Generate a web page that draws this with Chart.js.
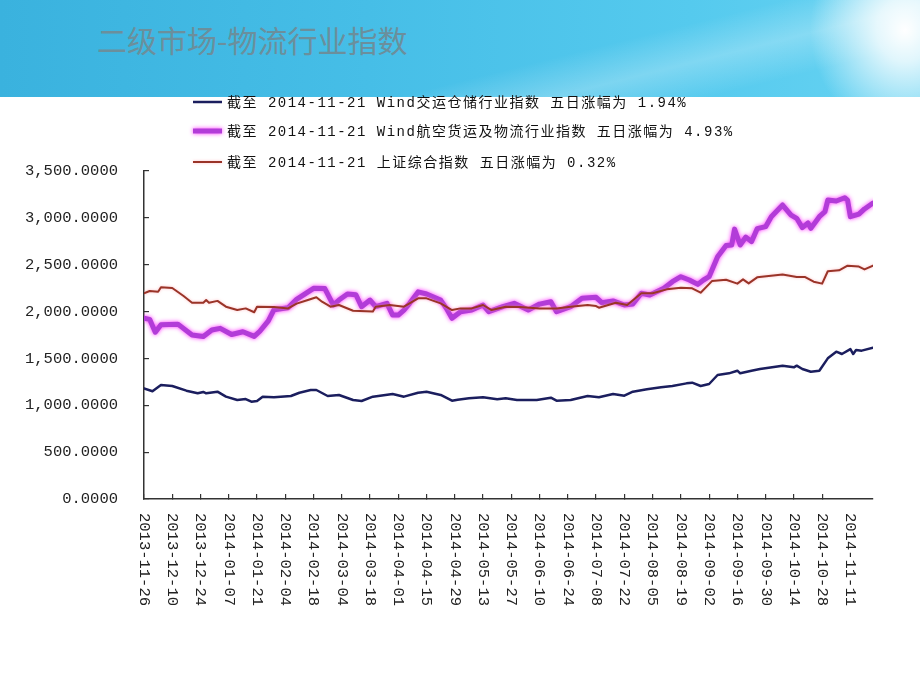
<!DOCTYPE html>
<html>
<head>
<meta charset="UTF-8">
<title>二级市场-物流行业指数</title>
<script src="https://cdn.jsdelivr.net/npm/chart.js@4.4.1/dist/chart.umd.min.js"></script>
<style>
  html, body { margin: 0; padding: 0; }
  body { width: 920px; height: 690px; position: relative; overflow: hidden; background: #fff;
         font-family: "Noto Sans CJK SC", sans-serif; }
  #header { position: absolute; left: 0; top: 0; width: 920px; height: 97px;
    background:
      radial-gradient(ellipse 95px 105px at 905px 30px, rgba(255,255,255,1) 0%, rgba(255,255,255,0.8) 30%, rgba(255,255,255,0) 100%),
      linear-gradient(166deg, rgba(255,255,255,0) 60%, rgba(255,255,255,0.25) 72%, rgba(255,255,255,0) 84%),
      linear-gradient(to right, #3ab2de 0%, #46bee7 40%, #55caee 75%, #68d3f2 100%); }
  #title { position: absolute; left: 97px; top: 21px; font-size: 30px; line-height: 36px; color: #6b8f9c; }
  #chart { position: absolute; left: 0; top: 0; }
</style>
</head>
<body>
<div id="header"><div id="title">二级市场-物流行业指数</div></div>
<canvas id="chart" width="920" height="690"></canvas>
<script>
// tick labels, one every 10 trading days
const tickDates = ['2013-11-26', '2013-12-10', '2013-12-24', '2014-01-07', '2014-01-21', '2014-02-04',
  '2014-02-18', '2014-03-04', '2014-03-18', '2014-04-01', '2014-04-15', '2014-04-29', '2014-05-13',
  '2014-05-27', '2014-06-10', '2014-06-24', '2014-07-08', '2014-07-22', '2014-08-05', '2014-08-19',
  '2014-09-02', '2014-09-16', '2014-09-30', '2014-10-14', '2014-10-28', '2014-11-11'];
const lastDay = 258; // 2014-11-21

const seriesNames = [
  '截至 2014-11-21 Wind交运仓储行业指数 五日涨幅为 1.94%',
  '截至 2014-11-21 Wind航空货运及物流行业指数 五日涨幅为 4.93%',
  '截至 2014-11-21 上证综合指数 五日涨幅为 0.32%'
];

// Wind交运仓储行业指数 (trading day index, value)
const navyDays = [0, 3, 6, 10, 15, 19, 21, 22, 26, 29, 33, 36, 38, 40, 42, 46, 52, 55, 59, 61, 65, 69, 74, 77,
  81, 88, 92, 97, 100, 105, 109, 111, 115, 120, 125, 128, 132, 139, 144, 146, 151, 157, 161, 166, 170, 173,
  178, 183, 187, 192, 194, 197, 200, 203, 207, 210, 211, 215, 218, 226, 230, 231, 233, 236, 239, 242, 245,
  247, 250, 251, 252, 254, 258];
const navyVals = [1181, 1150, 1216, 1206, 1156, 1128, 1142, 1128, 1145, 1092, 1056, 1067, 1038, 1046, 1092,
  1085, 1099, 1134, 1163, 1163, 1099, 1110, 1056, 1046, 1092, 1120, 1092, 1134, 1145, 1110, 1049, 1060, 1074,
  1085, 1064, 1074, 1056, 1056, 1081, 1049, 1056, 1099, 1085, 1120, 1102, 1145, 1170, 1192, 1206, 1234, 1241,
  1206, 1227, 1323, 1341, 1369, 1341, 1369, 1387, 1423, 1405, 1423, 1387, 1358, 1369, 1501, 1572, 1547, 1600,
  1547, 1590, 1583, 1614];

// Wind航空货运及物流行业指数
const purpleDays = [0, 2, 4, 6, 12, 17, 21, 24, 27, 31, 35, 39, 41, 44, 46, 51, 54, 60, 64, 67, 69, 72, 75, 77,
  80, 82, 86, 88, 90, 92, 94, 97, 100, 105, 107, 109, 112, 116, 120, 122, 127, 131, 136, 140, 144, 146, 151,
  155, 160, 162, 166, 170, 173, 176, 179, 184, 187, 190, 193, 196, 198, 200, 203, 206, 208, 209, 211, 213, 215,
  217, 220, 222, 226, 229, 231, 233, 235, 236, 239, 241, 242, 245, 248, 249, 250, 253, 255, 258];
const purpleVals = [1928, 1917, 1780, 1860, 1866, 1750, 1735, 1803, 1821, 1755, 1785, 1735, 1790, 1900, 2020,
  2040, 2130, 2248, 2245, 2070, 2123, 2187, 2180, 2052, 2123, 2052, 2088, 1963, 1963, 2016, 2088, 2210, 2187,
  2123, 2034, 1928, 1999, 2016, 2070, 1999, 2052, 2088, 2016, 2080, 2105, 1999, 2052, 2141, 2152, 2095, 2114,
  2070, 2080, 2195, 2177, 2248, 2319, 2372, 2337, 2290, 2337, 2372, 2585, 2705, 2710, 2880, 2710, 2795, 2746,
  2885, 2906, 3012, 3137, 3030, 2995, 2895, 2945, 2888, 3012, 3066, 3190, 3180, 3215, 3190, 3012, 3040, 3095,
  3158];

// 上证综合指数
const redDays = [0, 2, 5, 6, 10, 14, 17, 21, 22, 23, 26, 29, 33, 36, 39, 40, 46, 51, 54, 58, 61, 63, 66, 69, 74,
  81, 82, 87, 92, 97, 100, 105, 109, 112, 116, 120, 123, 128, 133, 140, 146, 151, 157, 160, 161, 167, 171, 176,
  180, 185, 190, 194, 197, 201, 206, 210, 212, 214, 217, 226, 231, 234, 237, 240, 242, 246, 249, 253, 255, 258];
const redVals = [2195, 2219, 2212, 2259, 2252, 2166, 2095, 2095, 2123, 2095, 2114, 2052, 2016, 2034, 1993, 2052,
  2050, 2034, 2085, 2123, 2152, 2105, 2052, 2070, 2009, 2000, 2052, 2070, 2052, 2141, 2141, 2088, 2016, 2034,
  2034, 2070, 2016, 2052, 2050, 2034, 2034, 2052, 2070, 2059, 2041, 2095, 2070, 2195, 2195, 2237, 2255, 2248,
  2201, 2325, 2340, 2298, 2344, 2301, 2365, 2395, 2370, 2368, 2319, 2298, 2430, 2440, 2490, 2480, 2450, 2490];

function pts(days, vals) {
  return days.map(function (d, i) { return { x: d, y: vals[i] }; });
}

const lineFont = '"Liberation Mono", "Noto Sans CJK SC", monospace';

// soft halo round a line
const glow = {
  id: 'glow',
  beforeDatasetDraw(chart, args) {
    const ds = chart.data.datasets[args.index];
    if (!ds.glowColor) return;
    chart.ctx.save();
    chart.ctx.shadowColor = ds.glowColor;
    chart.ctx.shadowBlur = ds.glowBlur;
  },
  afterDatasetDraw(chart, args) {
    if (chart.data.datasets[args.index].glowColor) chart.ctx.restore();
  }
};

// vertical date labels, reading top to bottom
const dateLabels = {
  id: 'dateLabels',
  afterDraw(chart) {
    const ctx = chart.ctx, xs = chart.scales.x;
    ctx.save();
    ctx.font = '15.5px "Liberation Mono", monospace';
    ctx.fillStyle = '#222';
    ctx.textAlign = 'left';
    ctx.textBaseline = 'middle';
    tickDates.forEach(function (d, i) {
      const px = xs.getPixelForValue(i * 10);
      ctx.save();
      ctx.translate(px, xs.bottom + 4);
      ctx.rotate(Math.PI / 2);
      ctx.fillText(d, 0, 0);
      ctx.restore();
    });
    ctx.restore();
  }
};

// legend rows above the plot
const lineLegend = {
  id: 'lineLegend',
  afterDraw(chart) {
    const ctx = chart.ctx;
    const rows = [102, 131, 162];
    ctx.save();
    ctx.font = '14px ' + lineFont;
    if ('letterSpacing' in ctx) ctx.letterSpacing = '1.5px';
    ctx.textBaseline = 'middle';
    ctx.textAlign = 'left';
    chart.data.datasets.forEach(function (ds, i) {
      const y = rows[i];
      ctx.save();
      if (ds.glowColor) { ctx.shadowColor = ds.glowColor; ctx.shadowBlur = ds.glowBlur; }
      ctx.strokeStyle = ds.borderColor;
      ctx.lineWidth = ds.borderWidth;
      ctx.beginPath();
      ctx.moveTo(193, y);
      ctx.lineTo(222, y);
      ctx.stroke();
      ctx.restore();
      ctx.fillStyle = '#111';
      ctx.fillText(ds.label, 227, y + 1);
    });
    ctx.restore();
  }
};

new Chart(document.getElementById('chart'), {
  type: 'line',
  data: {
    datasets: [
      { label: seriesNames[0], data: pts(navyDays, navyVals), borderColor: '#1b1e5e', borderWidth: 2.5, order: 3 },
      { label: seriesNames[1], data: pts(purpleDays, purpleVals), borderColor: '#b23cd8', borderWidth: 5, order: 2,
        glowColor: 'rgba(255,40,255,0.95)', glowBlur: 4 },
      { label: seriesNames[2], data: pts(redDays, redVals), borderColor: '#9a3428', borderWidth: 2, order: 1,
        glowColor: 'rgba(255,150,160,0.6)', glowBlur: 3 }
    ]
  },
  options: {
    responsive: false,
    animation: false,
    devicePixelRatio: 1,
    layout: { padding: { left: 0, top: 171, right: 47, bottom: 181 } },
    elements: { point: { radius: 0 }, line: { tension: 0, borderJoinStyle: 'round', borderCapStyle: 'round' } },
    plugins: { legend: { display: false }, tooltip: { enabled: false } },
    scales: {
      x: {
        type: 'linear',
        min: 0,
        max: lastDay,
        afterBuildTicks: function (s) { s.ticks = s.ticks.filter(function (t) { return t.value % 10 === 0; }); },
        afterFit: function (s) { s.height = 10; },
        ticks: { stepSize: 10, display: false },
        grid: { drawOnChartArea: false, tickLength: -5, color: '#333', lineWidth: 1.2 },
        border: { color: '#333', width: 1.5 }
      },
      y: {
        min: 0,
        max: 3500,
        afterFit: function (s) { s.width = 144; },
        ticks: {
          stepSize: 500,
          padding: 31,
          color: '#222',
          font: { family: '"Liberation Mono", monospace', size: 15.5 },
          callback: function (v) {
            return v.toLocaleString('en-US', { minimumFractionDigits: 4, maximumFractionDigits: 4 });
          }
        },
        grid: { drawOnChartArea: false, tickLength: -5, color: '#333', lineWidth: 1.2 },
        border: { color: '#333', width: 1.5 }
      }
    }
  },
  plugins: [glow, dateLabels, lineLegend]
});
</script>
</body>
</html>
